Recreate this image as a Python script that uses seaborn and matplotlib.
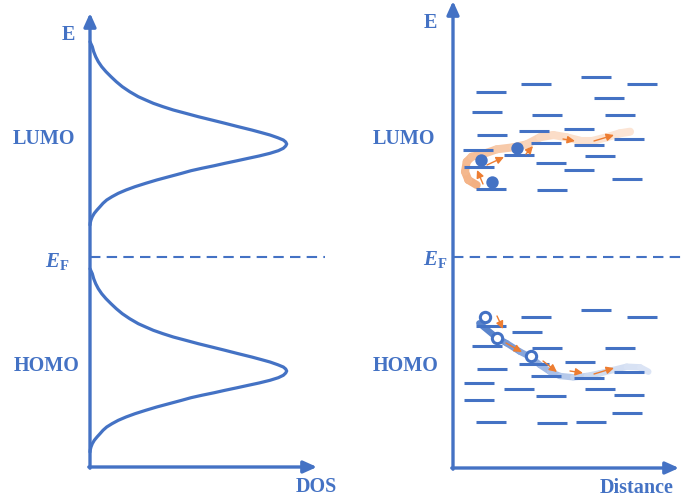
import numpy as np
import pandas as pd
import matplotlib
matplotlib.use("Agg")
import matplotlib.pyplot as plt
import seaborn as sns
from matplotlib.collections import LineCollection
from matplotlib.colors import to_rgb

BLUE = "#4472C4"
ORANGE = "#ED7D31"

# Energy reference points (arbitrary units, Fermi level at 0)
E_F = 0.0
LUMO_E = 1.13
HOMO_E = -1.14

# Shape of one disorder-broadened band: energy offset from band centre -> DOS
band_dE = [1.023, 0.973, 0.923, 0.873, 0.823, 0.773, 0.723, 0.673, 0.623, 0.573,
           0.523, 0.473, 0.44, 0.407, 0.373, 0.34, 0.307, 0.273, 0.24, 0.207,
           0.173, 0.14, 0.113, 0.09, 0.063, 0.04, 0.02, 0.0,
           -0.02, -0.043, -0.067, -0.093, -0.12, -0.143, -0.167, -0.193, -0.217,
           -0.243, -0.267, -0.293, -0.327, -0.36, -0.393, -0.427, -0.46, -0.493,
           -0.527, -0.56, -0.593, -0.627, -0.66, -0.693, -0.727, -0.76, -0.787, -0.81]
band_dos = [0.0, 0.023, 0.037, 0.057, 0.083, 0.117, 0.16, 0.21, 0.263, 0.323,
            0.397, 0.483, 0.557, 0.633, 0.73, 0.833, 0.957, 1.083, 1.217, 1.35,
            1.483, 1.617, 1.717, 1.80, 1.877, 1.933, 1.957, 1.967,
            1.957, 1.933, 1.883, 1.80, 1.69, 1.583, 1.473, 1.35, 1.243,
            1.117, 1.01, 0.917, 0.79, 0.667, 0.557, 0.45, 0.36, 0.283,
            0.22, 0.167, 0.13, 0.10, 0.07, 0.043, 0.023, 0.01, 0.003, 0.0]

# Localised states (site position, energy) around the LUMO
lumo_site_x = [1.43, 0.83, 1.89, 0.38, 1.56, 0.34, 0.94, 1.67, 0.81, 1.26, 0.39, 0.25,
               0.93, 1.76, 0.66, 1.36, 0.26, 0.98, 1.47, 1.26, 1.74, 0.38, 0.99]
lumo_site_E = [1.80, 1.73, 1.73, 1.65, 1.59, 1.45, 1.42, 1.42, 1.26, 1.28, 1.22, 1.07,
               1.14, 1.18, 1.02, 1.12, 0.90, 0.94, 1.01, 0.87, 0.78, 0.68, 0.67]
# Localised states around the HOMO
homo_site_x = [1.43, 0.83, 1.89, 0.38, 0.74, 0.34, 0.94, 1.67, 0.81, 1.27, 0.39, 0.93,
               1.36, 1.76, 0.26, 0.66, 1.47, 0.98, 0.26, 1.76, 1.74, 0.38, 0.99, 1.38]
homo_site_E = [-0.53, -0.60, -0.60, -0.69, -0.75, -0.89, -0.91, -0.91, -1.07, -1.05,
               -1.12, -1.19, -1.21, -1.15, -1.26, -1.32, -1.32, -1.39, -1.43, -1.38,
               -1.56, -1.65, -1.66, -1.65]
SITE_HALF = 0.15

# Electrons and holes
electron_x = [0.28, 0.64, 0.39]
electron_E = [0.97, 1.09, 0.75]
hole_x = [0.32, 0.44, 0.78]
hole_E = [-0.60, -0.81, -0.99]

# Hopping trajectories
e_path_x = [0.237, 0.153, 0.12, 0.137, 0.187, 0.303, 0.437, 0.603, 0.737, 0.87, 1.003,
            1.137, 1.27, 1.403, 1.537, 1.67, 1.77]
e_path_E = [0.72, 0.77, 0.853, 0.953, 1.003, 1.03, 1.077, 1.097, 1.127, 1.197, 1.22,
            1.197, 1.163, 1.163, 1.197, 1.237, 1.253]
h_path_x = [0.263, 0.437, 0.537, 0.67, 0.77, 0.87, 0.97, 1.07, 1.203, 1.337, 1.47,
            1.603, 1.737, 1.87, 1.953]
h_path_E = [-0.663, -0.807, -0.863, -0.947, -0.997, -1.08, -1.147, -1.19, -1.203,
            -1.19, -1.163, -1.13, -1.097, -1.103, -1.147]

# Individual hops (start x, start E, end x, end E)
e_hops = [(0.30, 0.73, 0.24, 0.87), (0.34, 0.92, 0.51, 1.00), (0.73, 1.03, 0.80, 1.11),
          (1.10, 1.18, 1.22, 1.16), (1.41, 1.16, 1.61, 1.22)]
h_hops = [(0.44, -0.59, 0.50, -0.72), (0.53, -0.86, 0.69, -0.95), (0.90, -1.04, 1.04, -1.15),
          (1.17, -1.14, 1.30, -1.16), (1.41, -1.17, 1.61, -1.11)]

sns.set_theme(style="white")
plt.rcParams["font.family"] = ["Liberation Serif", "DejaVu Serif"]
plt.rcParams["mathtext.fontset"] = "custom"
plt.rcParams["mathtext.rm"] = "Liberation Serif:bold"
plt.rcParams["mathtext.it"] = "Liberation Serif:italic:bold"
plt.rcParams["mathtext.bf"] = "Liberation Serif:bold"

fig = plt.figure(figsize=(6.81, 5.01), dpi=100)
ax1 = fig.add_axes([0, 0, 340 / 681, 1])
ax2 = fig.add_axes([340 / 681, 0, 341 / 681, 1])
ax1.set_xlim(-0.9, 2.5)
ax2.set_xlim(-1.13, 2.28)
for ax in (ax1, ax2):
    ax.set_ylim(-2.44, 2.57)
    ax.set_axis_off()

LABEL = dict(color=BLUE, fontsize=14.5, fontweight="bold")


def axis_arrow(ax, start, end):
    ax.annotate("", xy=end, xytext=start,
                arrowprops=dict(arrowstyle="-|>,head_length=0.8,head_width=0.36",
                                mutation_scale=10, lw=2.4, color=BLUE,
                                shrinkA=0, shrinkB=0), zorder=3)


def gradient_line(ax, xs, ys, stops, lw, z):
    pts = np.column_stack([xs, ys])
    segs = np.stack([pts[:-1], pts[1:]], axis=1)
    seglen = np.hypot(*(pts[1:] - pts[:-1]).T)
    t = (np.cumsum(seglen) - seglen / 2) / seglen.sum()
    pos = np.linspace(0, 1, len(stops))
    rgb = np.array([to_rgb(c) for c in stops])
    cols = np.column_stack([np.interp(t, pos, rgb[:, k]) for k in range(3)])
    lc = LineCollection(segs, colors=cols, linewidths=lw, capstyle="round",
                        joinstyle="round", zorder=z)
    ax.add_collection(lc)


def hop(ax, x0, y0, x1, y1):
    ax.annotate("", xy=(x1, y1), xytext=(x0, y0),
                arrowprops=dict(arrowstyle="-|>,head_length=0.45,head_width=0.22",
                                mutation_scale=10, lw=1.0, color=ORANGE,
                                shrinkA=0, shrinkB=0), zorder=6)


# ---- Left panel: density of states ----
ax1_bottom = -2.10
for centre in (LUMO_E, HOMO_E):
    band = pd.DataFrame({"dos": band_dos, "E": np.array(band_dE) + centre})
    sns.lineplot(data=band, x="dos", y="E", sort=False, estimator=None,
                 color=BLUE, lw=2.3, ax=ax1, zorder=2,
                 solid_capstyle="round", solid_joinstyle="round")
axis_arrow(ax1, (0, ax1_bottom - 0.012), (0, 2.44))
axis_arrow(ax1, (-0.012, ax1_bottom), (2.27, ax1_bottom))
ax1.plot([0, 2.35], [E_F, E_F], color=BLUE, lw=1.5, ls=(0, (5, 3)))

ax1.text(-0.22, 2.17, "E", ha="center", va="baseline", **LABEL)
ax1.text(-0.77, LUMO_E, "LUMO", ha="left", va="baseline", **LABEL)
ax1.text(-0.76, HOMO_E, "HOMO", ha="left", va="baseline", **LABEL)
ax1.text(-0.45, -0.10, r"$E_{\mathrm{F}}$", ha="left", va="baseline",
         color=BLUE, fontsize=15)
ax1.text(2.265, -2.35, "DOS", ha="center", va="baseline", **LABEL)

# ---- Right panel: hopping between localised states ----
ax2_bottom = -2.11
axis_arrow(ax2, (0, ax2_bottom - 0.012), (0, 2.56))
axis_arrow(ax2, (-0.012, ax2_bottom), (2.26, ax2_bottom))
ax2.plot([0, 2.28], [E_F, E_F], color=BLUE, lw=1.5, ls=(0, (5, 3)))

gradient_line(ax2, e_path_x, e_path_E, ["#F3AE7F", "#F7C9A8", "#FBDFCB", "#FCE6D6"],
              lw=5.8, z=1)
gradient_line(ax2, h_path_x, h_path_E, ["#4F7BC8", "#8EABDF", "#CBD9F0", "#DCE5F5"],
              lw=4.6, z=1)

for xs, es in ((lumo_site_x, lumo_site_E), (homo_site_x, homo_site_E)):
    xs = np.asarray(xs)
    ax2.hlines(es, xs - SITE_HALF, xs + SITE_HALF, color=BLUE, lw=2.2, zorder=2)

sns.scatterplot(x=electron_x, y=electron_E, s=80, color=BLUE, linewidth=0,
                ax=ax2, zorder=5)
ax2.scatter(hole_x, hole_E, s=55, facecolors="white", edgecolors=BLUE,
            linewidths=2.2, zorder=5)

for h in e_hops + h_hops:
    hop(ax2, *h)

ax2.text(-0.23, 2.29, "E", ha="center", va="baseline", **LABEL)
ax2.text(-0.80, LUMO_E, "LUMO", ha="left", va="baseline", **LABEL)
ax2.text(-0.80, HOMO_E, "HOMO", ha="left", va="baseline", **LABEL)
ax2.text(-0.30, -0.08, r"$E_{\mathrm{F}}$", ha="left", va="baseline",
         color=BLUE, fontsize=15)
ax2.text(1.835, -2.36, "Distance", ha="center", va="baseline", **LABEL)

fig.savefig("out.png", dpi=100, facecolor="white")
